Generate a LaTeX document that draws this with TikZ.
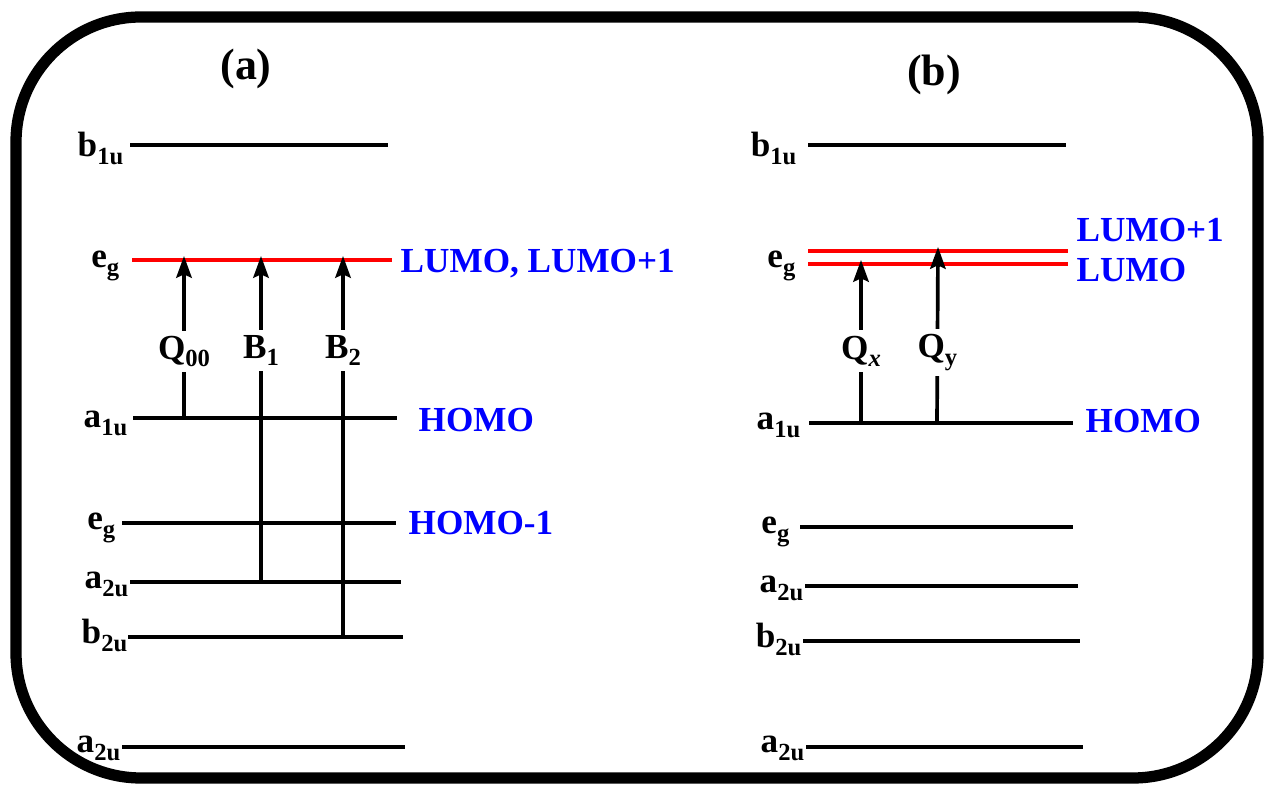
\documentclass[tikz,border=0pt]{standalone}
\usepackage{fontspec}
\setmainfont{Liberation Serif}
\usetikzlibrary{arrows.meta}
\definecolor{lumored}{RGB}{255,0,0}
\definecolor{tagblue}{RGB}{0,0,255}
\tikzset{
  orb/.style={draw=black, line width=1.05pt},
  orbx/.style={draw=lumored, line width=1.35pt},
  sym/.style={anchor=base east, inner sep=0pt, font=\fontsize{10}{12}\selectfont\bfseries},
  tag/.style={anchor=base west, inner sep=0pt, text=tagblue, font=\fontsize{10}{12}\selectfont\bfseries},
  ttl/.style={anchor=base, inner sep=0pt, font=\fontsize{12.5}{14}\selectfont\bfseries},
  exc/.style={-{Stealth[length=6.2pt,width=4.4pt,inset=1pt]}, line width=1.05pt},
  trl/.style={fill=white, inner sep=1.5pt, font=\fontsize{10}{12}\selectfont\bfseries}
}
\newcommand{\lsub}[2]{#1\raisebox{-2.2pt}{\fontsize{7}{8}\selectfont #2}}

\begin{document}
\begin{tikzpicture}[x=0.01cm, y=-0.01cm]
  \useasboundingbox (0,0) rectangle (1264,786);
  % frame
  \draw[line width=3.2pt, rounded corners=1.25cm] (16,17) rectangle (1258,778);

  % ---- panel (a)
  \node[ttl] (ta) at (246,80) {(a)};
  \draw[orb] (130,145) -- (388,145);
  \node[sym] (ab1u) at (124,157) {\lsub{b}{1u}};
  \draw[orbx] (132,260) -- (392,260);
  \node[sym] (aeg) at (120,268) {\lsub{e}{g}};
  \node[tag] (alumo) at (400,273) {LUMO, LUMO+1};
  \draw[orb] (133,418) -- (397,418);
  \node[sym] (aa1u) at (128,428) {\lsub{a}{1u}};
  \node[tag] (ahomo) at (418,432) {HOMO};
  \draw[orb] (122,523) -- (396,523);
  \node[sym] (aeg2) at (116,530) {\lsub{e}{g}};
  \node[tag] (ahomo1) at (408,535) {HOMO-1};
  \draw[orb] (130,582) -- (401,582);
  \node[sym] (aa2u) at (129,589) {\lsub{a}{2u}};
  \draw[orb] (128,637) -- (403,637);
  \node[sym] (ab2u) at (128,644) {\lsub{b}{2u}};
  \draw[orb] (122,747) -- (405,747);
  \node[sym] (aa2u2) at (121,753) {\lsub{a}{2u}};

  \coordinate (q00lo) at (184,418); \coordinate (q00hi) at (184,256);
  \coordinate (b1lo) at (261,582);  \coordinate (b1hi) at (261,256);
  \coordinate (b2lo) at (343,637);  \coordinate (b2hi) at (343,256);
  \draw[exc] (q00lo) -- node[trl,pos=0.41] (q00) {\lsub{Q}{00}} (q00hi);
  \draw[exc] (b1lo) -- node[trl,pos=0.71] (b1) {\lsub{B}{1}} (b1hi);
  \draw[exc] (b2lo) -- node[trl,pos=0.752] (b2) {\lsub{B}{2}} (b2hi);

  % ---- panel (b)
  \node[ttl] (tb) at (934,86) {(b)};
  \draw[orb] (808,145) -- (1066,145);
  \node[sym] (bb1u) at (797,157) {\lsub{b}{1u}};
  \draw[orbx] (808,251) -- (1068,251);
  \draw[orbx] (808,264) -- (1068,264);
  \node[sym] (beg) at (796,268) {\lsub{e}{g}};
  \node[tag] (blumo1) at (1076,242) {LUMO+1};
  \node[tag] (blumo) at (1076,282) {LUMO};
  \draw[orb] (809,423) -- (1073,423);
  \node[sym] (ba1u) at (801,430) {\lsub{a}{1u}};
  \node[tag] (bhomo) at (1085,433) {HOMO};
  \draw[orb] (800,527) -- (1073,527);
  \node[sym] (beg2) at (790,534) {\lsub{e}{g}};
  \node[sym] (ba2u) at (804,593) {\lsub{a}{2u}};
  \draw[orb] (805,586) -- (1078,586);
  \node[sym] (bb2u) at (802,648) {\lsub{b}{2u}};
  \draw[orb] (803,641) -- (1080,641);
  \node[sym] (ba2u2) at (805,753) {\lsub{a}{2u}};
  \draw[orb] (806,747) -- (1083,747);

  \coordinate (qxlo) at (861,423); \coordinate (qxhi) at (861,260);
  \coordinate (qylo) at (937,423); \coordinate (qyhi) at (938,247);
  \draw[exc] (qxlo) -- node[trl,pos=0.44] (qx) {\lsub{Q}{\textit{x}}} (qxhi);
  \draw[exc] (qylo) -- node[trl,pos=0.4] (qy) {\lsub{Q}{y}} (qyhi);
\end{tikzpicture}
\end{document}
